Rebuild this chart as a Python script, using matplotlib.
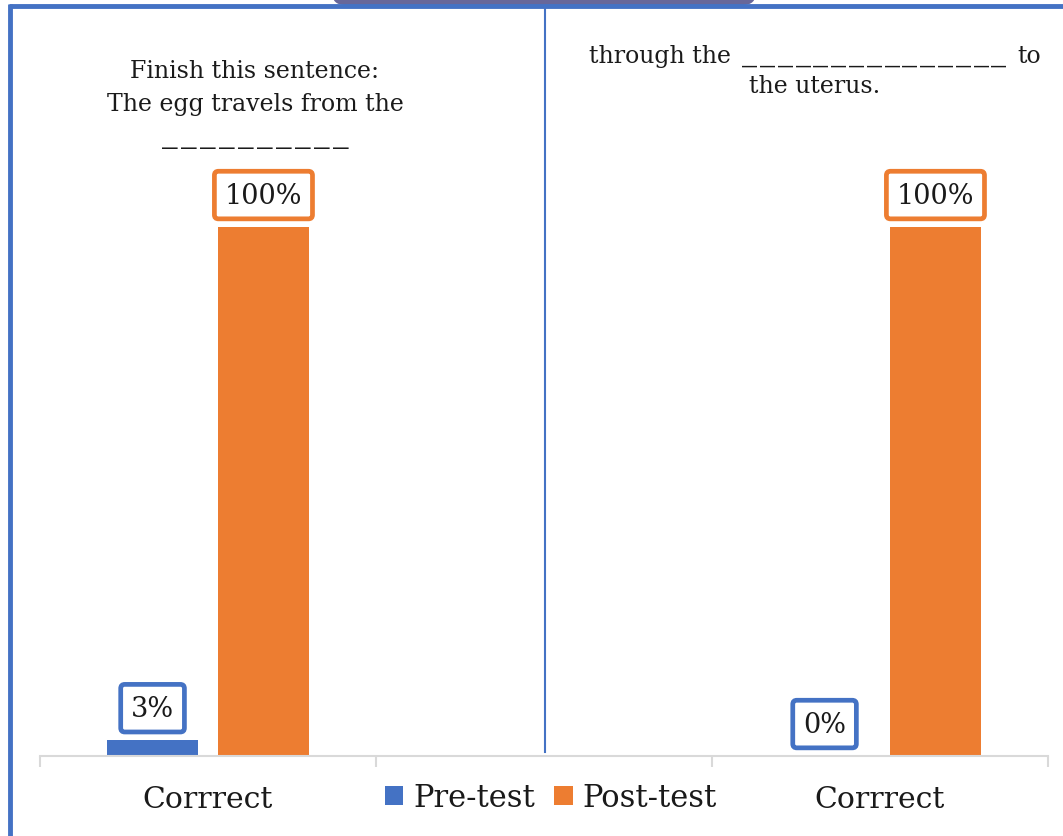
import matplotlib
matplotlib.use("Agg")
import matplotlib.pyplot as plt
from matplotlib.patches import FancyBboxPatch, Patch
from matplotlib.lines import Line2D
import numpy as np

# Data
categories = ["Corrrect", "", "Corrrect"]
pre_test = [3, None, 0]
post_test = [100, None, 100]
series_names = ["Pre-test", "Post-test"]

# Question text, one entry per line; an int stands for a blank of that many underscores
left_lines = [["Finish this sentence:"], ["The egg travels from the"], [10]]
right_lines = [["through the", 15, "to"], ["the uterus."]]

BLUE = "#4472C4"
ORANGE = "#ED7D31"
TEXT = "#1a1a1a"
AXIS_GREY = "#D9D9D9"

plt.rcParams["font.family"] = ["DejaVu Serif"]

W, H = 1063, 837
fig = plt.figure(figsize=(W / 100, H / 100), dpi=100)
fig.patch.set_facecolor("white")
renderer = fig.canvas.get_renderer()


def px(x, y):
    return x / W, 1 - y / H


left, right = 40, 1048
base, top = 757, 228
ax = fig.add_axes([left / W, (H - base) / H, (right - left) / W, (base - top) / H])
ax.set_xlim(-0.5, 2.5)
ax.set_ylim(0, 100)

bw = 0.27
off = 0.165
x = np.arange(len(categories))
for i, (p, q) in enumerate(zip(pre_test, post_test)):
    if p is None:
        continue
    ax.bar(x[i] - off, p, width=bw, color=BLUE, zorder=2)
    ax.bar(x[i] + off, q, width=bw, color=ORANGE, zorder=2)
    for xv, v, c in ((x[i] - off, p, BLUE), (x[i] + off, q, ORANGE)):
        ax.annotate(f"{v}%", xy=(xv, v), xytext=(0, 23), textcoords="offset points",
                    ha="center", va="center", fontsize=19.5, color=TEXT, clip_on=False,
                    bbox=dict(boxstyle="round,pad=0.38,rounding_size=0.15", fc="white",
                              ec=c, lw=3.4))

for s in ("left", "right", "top"):
    ax.spines[s].set_visible(False)
ax.spines["bottom"].set_color(AXIS_GREY)
ax.spines["bottom"].set_linewidth(1.5)
ax.set_yticks([])
ax.set_xticks([-0.5, 0.5, 1.5, 2.5])
ax.set_xticklabels([])
ax.tick_params(axis="x", which="major", length=8, width=1.5, color=AXIS_GREY)
ax.set_xticks([0, 2], minor=True)
ax.set_xticklabels([categories[0], categories[2]], minor=True)
ax.tick_params(axis="x", which="minor", length=0, pad=21, labelsize=21.5, labelcolor=TEXT)

# Legend
handles = [Patch(facecolor=BLUE, edgecolor="none"), Patch(facecolor=ORANGE, edgecolor="none")]
fig.legend(handles, series_names, loc="center", bbox_to_anchor=px(551, 799), ncol=2,
           frameon=False, fontsize=22, handlelength=0.6, handleheight=0.6,
           handletextpad=0.33, columnspacing=0.62, labelcolor=TEXT)


def text_line(parts, cx, baseline, fs, step, dash_fs, gap=9):
    """Lay out words and underscore blanks on one baseline, centred on cx (pixels)."""
    items = []
    for part in parts:
        if isinstance(part, int):
            glyphs = [fig.text(0, 0, "_", fontsize=dash_fs, color=TEXT, va="baseline",
                               ha="left") for _ in range(part)]
            items.append(("blank", glyphs, part * step - (step - dash_fs * 100 / 72 * 0.5)))
        else:
            t = fig.text(0, 0, part, fontsize=fs, color=TEXT, va="baseline", ha="left")
            items.append(("word", t, t.get_window_extent(renderer).width))
    total = sum(w for _, _, w in items) + gap * (len(items) - 1)
    xpos = cx - total / 2
    for kind, obj, w in items:
        if kind == "word":
            obj.set_position(px(xpos, baseline))
        else:
            for k, g in enumerate(obj):
                g.set_position(px(xpos + k * step, baseline - 3))
        xpos += w + gap


FS = 17
for parts, bl in zip(left_lines, (78, 111, 144)):
    text_line(parts, 255, bl, FS, 19, 22.5)
for parts, bl in zip(right_lines, (63, 93)):
    text_line(parts, 815, bl, FS, 17.8, 21.5, gap=11)

# Divider and frame
fig.add_artist(Line2D([545 / W, 545 / W], [1 - 8 / H, 1 - 753 / H], color=BLUE, lw=1.5,
                      transform=fig.transFigure))
fig.add_artist(Line2D([9 / W, 1], [1 - 6.5 / H, 1 - 6.5 / H], color=BLUE, lw=3.5,
                      transform=fig.transFigure, solid_capstyle="butt"))
fig.add_artist(Line2D([9.5 / W, 9.5 / W], [1 - 4.5 / H, 0], color=BLUE, lw=3.5,
                      transform=fig.transFigure, solid_capstyle="butt"))
tab = FancyBboxPatch((332 / W, 1 - 6 / H), 424 / W, 30 / H,
                     boxstyle="round,pad=0,rounding_size=0.012",
                     transform=fig.transFigure, fc="#67679A", ec="none",
                     mutation_aspect=W / H)
fig.add_artist(tab)

fig.savefig("out.png", dpi=100, facecolor="white")
